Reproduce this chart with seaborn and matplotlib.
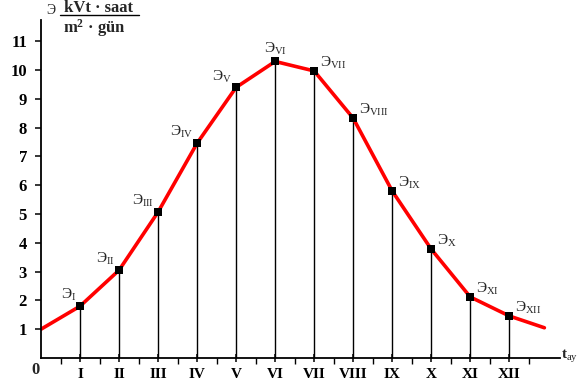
import matplotlib
matplotlib.use("Agg")
import matplotlib.pyplot as plt
import seaborn as sns
import pandas as pd
from matplotlib.lines import Line2D

sns.set_style("white")
plt.rcParams['font.family'] = ['Liberation Serif', 'DejaVu Serif']
plt.rcParams['mathtext.fontset'] = 'custom'
plt.rcParams['mathtext.rm'] = 'Liberation Serif'
plt.rcParams['mathtext.it'] = 'Liberation Serif:italic'
plt.rcParams['mathtext.bf'] = 'Liberation Serif:bold'

# Data
months = ["I", "II", "III", "IV", "V", "VI", "VII", "VIII", "IX", "X", "XI", "XII"]
month_pos = [1, 2, 3, 4, 5, 6, 7, 8, 9, 10, 11, 12]
energy = [1.8, 3.05, 5.07, 7.46, 9.4, 10.3, 9.97, 8.33, 5.8, 3.78, 2.12, 1.46]
curve_t = [0, 1, 2, 3, 4, 5, 6, 7, 8, 9, 10, 11, 12, 12.9]
curve_e = [1.0, 1.8, 3.05, 5.07, 7.46, 9.4, 10.3, 9.97, 8.33, 5.8, 3.78, 2.12, 1.46, 1.05]
y_ticks = [1, 2, 3, 4, 5, 6, 7, 8, 9, 10, 11]

# label side relative to marker
label_side = ["l", "l", "l", "l", "l", "c", "r", "r", "r", "r", "r", "r"]

fig = plt.figure(figsize=(5.79, 3.87), dpi=100)
ax = fig.add_axes([41/579, 29/387, 519/579, 338/387])

curve_df = pd.DataFrame({"t": curve_t, "e": curve_e})
pts_df = pd.DataFrame({"t": month_pos, "e": energy})

ax.vlines(month_pos, 0, energy, colors="black", linewidth=1.0, zorder=1)
sns.lineplot(data=curve_df, x="t", y="e", ax=ax, color="red", linewidth=2.6,
             sort=False, zorder=2)
sns.scatterplot(data=pts_df, x="t", y="e", ax=ax, color="black", marker="s",
                s=30, edgecolor="black", linewidth=0, zorder=3)

ax.set_xlim(0, 13.3)
ax.set_ylim(0, 11.74)
ax.set_xlabel("")
ax.set_ylabel("")
ax.spines["top"].set_visible(False)
ax.spines["right"].set_visible(False)
for s in ("left", "bottom"):
    ax.spines[s].set_color("black")
    ax.spines[s].set_linewidth(1.3)

ax.set_xticks(month_pos)
ax.set_xticklabels(months, fontsize=11, fontweight="bold")
ax.set_xticks([m - 0.5 for m in month_pos] + [12.5], minor=True)
ax.set_yticks(y_ticks)
ax.set_yticklabels([str(v) for v in y_ticks], fontsize=12, fontweight="bold")
ax.tick_params(axis="x", which="major", direction="inout", length=6, width=1.1,
               pad=4, colors="black")
ax.tick_params(axis="x", which="minor", direction="out", length=4, width=1.0,
               colors="black")
ax.tick_params(axis="y", which="major", direction="out", length=4, width=1.1,
               pad=6, colors="black")
ax.tick_params(axis="x", which="both", bottom=True)
ax.tick_params(axis="y", which="both", left=True)

for m, e, name, side in zip(month_pos, energy, months, label_side):
    txt = "Э$_{\\mathrm{" + name + "}}$"
    if side == "l":
        ax.annotate(txt, (m, e), xytext=(-3, 2), textcoords="offset points",
                    ha="right", va="bottom", fontsize=11)
    elif side == "r":
        ax.annotate(txt, (m, e), xytext=(4, 0), textcoords="offset points",
                    ha="left", va="bottom", fontsize=11)
    else:
        ax.annotate(txt, (m, e), xytext=(0, 3), textcoords="offset points",
                    ha="center", va="bottom", fontsize=11)

# axis annotations
fig.text(35/579, 1 - 370/387, "0", fontsize=12, fontweight="bold",
         ha="center", va="center")
fig.text(561/579, 1 - 356/387, "t$_{\\mathrm{ay}}$", fontsize=11,
         fontweight="bold", ha="left", va="center")
fig.text(51/579, 1 - 10/387, "Э", fontsize=10, ha="center", va="center")
fig.text(99/579, 1 - 12/387, "kVt · saat", fontsize=12, fontweight="bold",
         ha="center", va="baseline")
fig.text(94/579, 1 - 33/387, "m$^{\\mathbf{2}}$ · gün", fontsize=12,
         fontweight="bold", ha="center", va="baseline")
fig.add_artist(Line2D([60/579, 139/579], [1 - 15/387, 1 - 15/387],
                      color="black", linewidth=1.0, transform=fig.transFigure))

fig.savefig("out.png", dpi=100)
